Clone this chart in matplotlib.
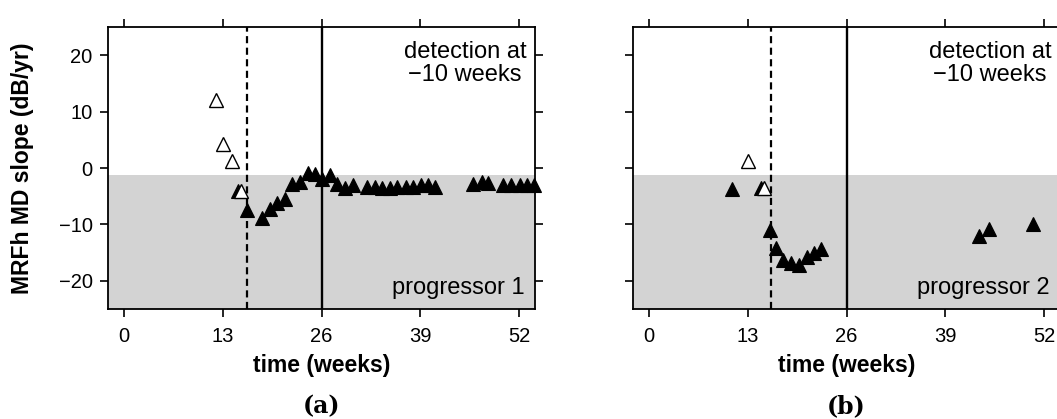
import matplotlib
matplotlib.use("Agg")
import matplotlib.pyplot as plt

plt.rcParams['font.family'] = ['Liberation Sans', 'DejaVu Sans']

# data
ticks_x = [0, 13, 26, 39, 52]
ticks_y = [-20, -10, 0, 10, 20]
threshold = -1.3

# progressor 1
open_a_x = [12.1, 13.1, 14.2, 15.4]
open_a_y = [12.1, 4.3, 1.2, -4.1]
fill_a_x = [15.0, 16.2, 18.2, 19.2, 20.2, 21.2, 22.1, 23.2, 24.2, 25.1, 26.1, 27.1,
            28.0, 29.1, 30.1, 32.0, 33.0, 34.0, 35.0, 36.0, 37.1, 38.1, 39.1, 40.0,
            40.9, 46.0, 47.1, 47.9, 49.9, 51.0, 52.1, 53.0, 54.0]
fill_a_y = [-4.1, -7.4, -8.8, -7.2, -6.2, -5.5, -2.9, -2.5, -0.9, -1.0, -1.9, -1.3,
            -2.8, -3.6, -3.1, -3.4, -3.4, -3.6, -3.6, -3.4, -3.4, -3.3, -3.0, -3.0,
            -3.3, -2.8, -2.5, -2.6, -3.0, -3.0, -3.0, -3.0, -3.0]
dash_a = 16.2

# progressor 2
open_b_x = [13.0, 15.2]
open_b_y = [1.3, -3.5]
fill_b_x = [10.9, 14.8, 15.9, 16.7, 17.7, 18.7, 19.8, 20.75, 21.7, 22.7, 43.4, 44.7, 50.6]
fill_b_y = [-3.65, -3.5, -11.0, -14.2, -16.3, -16.9, -17.2, -15.7, -15.0, -14.4,
            -12.1, -10.8, -10.0]
dash_b = 16.0

fig = plt.figure(figsize=(10.57, 4.19), dpi=100)
ax_a = fig.add_axes([108 / 1057, 110 / 419, 427 / 1057, 282 / 419])
ax_b = fig.add_axes([633 / 1057, 110 / 419, 427 / 1057, 282 / 419])

panels = [
    (ax_a, open_a_x, open_a_y, fill_a_x, fill_a_y, dash_a, 'progressor 1', '(a)'),
    (ax_b, open_b_x, open_b_y, fill_b_x, fill_b_y, dash_b, 'progressor 2', '(b)'),
]

for ax, ox, oy, fx, fy, dx, name, tag in panels:
    ax.axhspan(-30, threshold, color='#d3d3d3', lw=0, zorder=0)
    ax.axvline(dx, color='black', lw=1.6, dashes=(3.2, 2.0), zorder=2)
    ax.axvline(26, color='black', lw=1.7, zorder=2)
    # filled first, open on top (open ones are white inside)
    ax.plot(fx, fy, linestyle='none', marker='^', ms=10, color='black',
            mec='black', mew=0.8, zorder=3, clip_on=False)
    ax.plot(ox, oy, linestyle='none', marker='^', ms=10, mfc='white',
            mec='black', mew=1.0, zorder=4, clip_on=False)

    ax.set_xlim(-2.1, 54.1)
    ax.set_ylim(-25, 25)
    ax.set_xticks(ticks_x)
    ax.set_yticks(ticks_y)
    ax.tick_params(direction='out', length=6, width=1.2, top=True, right=True,
                   labeltop=False, labelright=False, labelsize=14.5, pad=5)
    ax.tick_params(axis='x', pad=7)
    for s in ax.spines.values():
        s.set_linewidth(1.3)

    ax.text(44.9, 0.952, 'detection at\n\u221210 weeks', transform=ax.get_xaxis_transform(),
            ha='center', va='top', fontsize=17, linespacing=1.1)
    ax.text(44.0, -22.4, name, ha='center', va='baseline', fontsize=17)

    ax.text(0.5, -0.2, 'time (weeks)', transform=ax.transAxes, ha='center',
            va='center', fontsize=16.5, fontweight='bold')
    ax.text(0.5, -0.345, tag, transform=ax.transAxes, ha='center', va='center',
            fontsize=17, fontweight='bold', family='DejaVu Serif')

ax_b.tick_params(labelleft=False)

fig.text(23 / 1057, 1 - 168 / 419, 'MRFh MD slope (dB/yr)', rotation=90,
         ha='center', va='center', fontsize=16.5, fontweight='bold')

fig.savefig('out.png', dpi=100)
